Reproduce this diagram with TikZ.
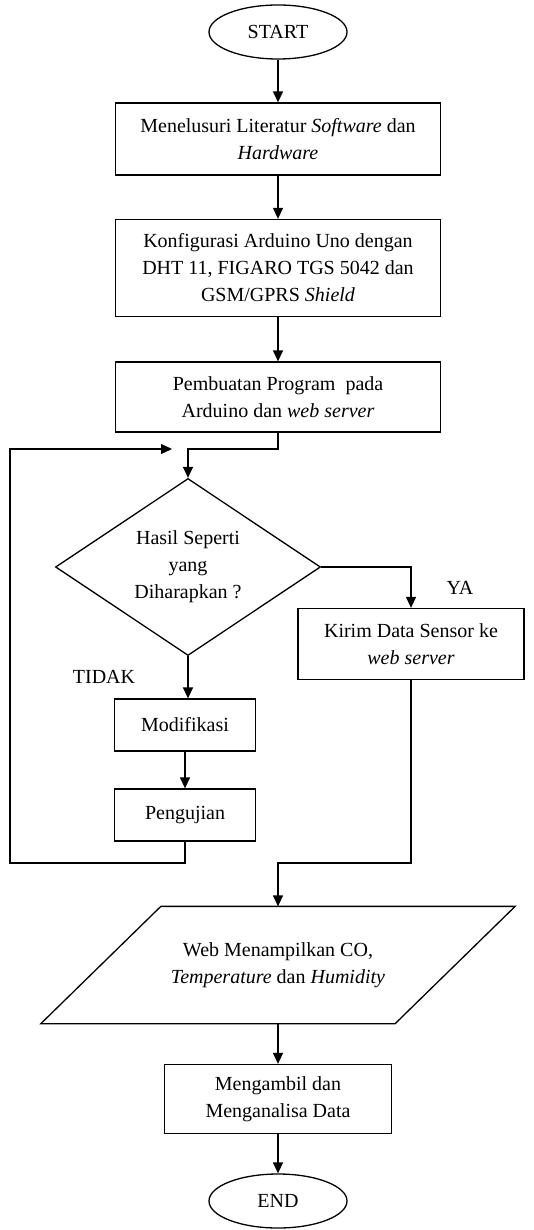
\documentclass[tikz,border=0pt]{standalone}
\usepackage{amsmath,amssymb}
\usepackage{fontspec}
\setmainfont{Liberation Serif}
\usetikzlibrary{shapes.geometric,arrows.meta}

\begin{document}
\begin{tikzpicture}
[x=1pt, y=-1pt, line width=1.3pt,
 >={Triangle[length=11pt,width=10pt]},
 font=\fontsize{20}{27}\selectfont,
 kotak/.style={draw, rectangle, align=center, inner sep=2pt},
 oval/.style={draw, ellipse, minimum width=138pt, minimum height=54pt, inner sep=0pt},
 belah/.style={draw, diamond, aspect=1.5, inner sep=0pt, align=center,
   minimum width=265pt, minimum height=177pt}]

\useasboundingbox (0,0) rectangle (534,1230);

% kotak utama
\node [oval] (mulai) at (278,32) {START};
\node [kotak, minimum width=325pt, minimum height=72pt] (b1) at (278,139)
 {Menelusuri Literatur \textit{Software} dan\\\textit{Hardware}};
\node [kotak, minimum width=325pt, minimum height=97pt] (b2) at (278,268)
 {Konfigurasi Arduino Uno dengan\\DHT 11, FIGARO TGS 5042 dan\\GSM/GPRS \textit{Shield}};
\node [kotak, minimum width=325pt, minimum height=70pt] (b3) at (278,397)
 {Pembuatan Program\ \ pada\\Arduino dan \textit{web server}};

\node [belah] (cek) at (188,567) {Hasil Seperti\\yang\\Diharapkan ?};

\node [kotak, minimum width=226pt, minimum height=71pt] (kirim) at (411,644)
 {Kirim Data Sensor ke\\\textit{web server}};
\node [kotak, minimum width=141pt, minimum height=52pt] (modif) at (185,725) {Modifikasi};
\node [kotak, minimum width=141pt, minimum height=52pt] (uji) at (185,815) {Pengujian};

% jajaran genjang
\node [minimum width=353pt, minimum height=116pt, align=center] (web) at (278,965)
 {Web Menampilkan CO,\\\textit{Temperature} dan \textit{Humidity}};
\draw ([xshift=60pt]web.north west)--([xshift=60pt]web.north east)
 --([xshift=-60pt]web.south east)--([xshift=-60pt]web.south west)--cycle;

\node [kotak, minimum width=227pt, minimum height=69pt] (ambil) at (278,1099)
 {Mengambil dan\\Menganalisa Data};
\node [oval] (selesai) at (278,1201) {END};


\node (ya) at (460,588) {YA};
\node (tidak) at (104,677) {TIDAK};


% panah
\draw [->] (mulai)--(b1);
\draw [->] (b1)--(b2);
\draw [->] (b2)--(b3);

\coordinate (j1) at (278,449);
\draw [->] (b3.south)--(j1)-|(cek.north);

\coordinate (lp1) at (10,863);
\coordinate (lp2) at (10,449);
\coordinate (lp3) at (172,449);
\draw [->] (uji.south)|-(lp1)--(lp2)--(lp3);

\draw [->] (cek.east)-|(kirim.north);
\draw [->] (cek.south)--(cek.south |- modif.north);
\draw [->] (modif)--(uji);

\coordinate (j2) at (278,863);
\draw [->] (kirim.south)|-(j2)--(j2 |- web.north);
\draw [->] (web.south)--(ambil.north);
\draw [->] (ambil)--(selesai);
\end{tikzpicture}
\end{document}
